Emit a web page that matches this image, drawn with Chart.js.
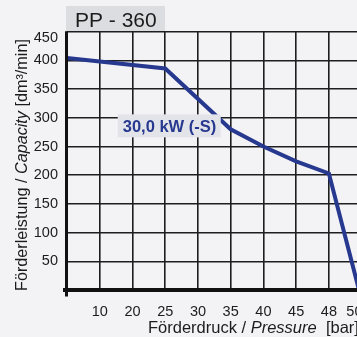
<!DOCTYPE html>
<html>
<head>
<meta charset="utf-8">
<script src="https://cdn.jsdelivr.net/npm/chart.js@4/dist/chart.umd.min.js"></script>
<style>
html,body{margin:0;padding:0;background:#f3f3f6;overflow:hidden;}
#wrap{width:357px;height:337px;overflow:hidden;position:relative;}
#c{display:block;}
</style>
</head>
<body>
<div id="wrap"><canvas id="c" width="400" height="337" style="width:400px;height:337px"></canvas></div>
<script>
// Category labels of the pressure axis (equally spaced positions 0..9)
const pressureLabels = ['', '10', '20', '25', '30', '35', '40', '45', '48', '50'];
// Curve points: position on the pressure axis (index into pressureLabels) and capacity
const curvePos = [0, 1, 3, 5, 6, 7, 8, 8.92];
const curveCapacity = [404, 398, 386, 280, 250, 224, 203, 0];
const yTicks = [0, 50, 100, 150, 200, 250, 300, 350, 400, 450];
const chartTitle = 'PP - 360';
const curveLabel = '30,0 kW (-S)';

const FONT = '"Liberation Sans", Arial, Helvetica, sans-serif';

const decor = {
  id: 'decor',
  beforeDraw(chart) {
    const ctx = chart.ctx;
    ctx.save();
    ctx.fillStyle = '#dcdde1';
    ctx.fillRect(66, 6, 99, 25);
    ctx.fillStyle = '#1c1c1c';
    ctx.font = '21px ' + FONT;
    ctx.textBaseline = 'alphabetic';
    ctx.fillText(chartTitle, 75, 27);
    ctx.restore();
  },
  afterDraw(chart) {
    const ctx = chart.ctx;
    const xs = chart.scales.x, ys = chart.scales.y;
    const ca = chart.chartArea;
    ctx.save();
    // top y tick label sits a little below its grid line
    ctx.fillStyle = '#1c1c1c';
    ctx.font = '14.5px ' + FONT;
    ctx.textAlign = 'right';
    ctx.textBaseline = 'middle';
    ctx.fillText(String(yTicks[yTicks.length - 1]), ca.left - 9, ys.getPixelForValue(yTicks[yTicks.length - 1]) + 6);
    ctx.textAlign = 'left';
    // axis lines
    ctx.strokeStyle = '#111';
    ctx.lineWidth = 3;
    ctx.beginPath();
    ctx.moveTo(66.5, ca.top - 0.5);
    ctx.lineTo(66.5, 296.5);
    ctx.stroke();
    ctx.lineWidth = 4;
    ctx.beginPath();
    ctx.moveTo(63, ys.getPixelForValue(0));
    ctx.lineTo(chart.width, ys.getPixelForValue(0));
    ctx.stroke();
    // curve label
    const lx = xs.getPixelForValue(1.55), ly = ys.getPixelForValue(306);
    ctx.fillStyle = '#e3e4ea';
    ctx.fillRect(lx, ly, 103, 23);
    ctx.fillStyle = '#27388f';
    ctx.font = 'bold 16.5px ' + FONT;
    ctx.textBaseline = 'alphabetic';
    ctx.fillText(curveLabel, lx + 5, ly + 17.5);
    // axis titles with italic part
    function mixed(parts, x, y, size) {
      let cx = x;
      parts.forEach(p => {
        ctx.font = (p[1] ? 'italic ' : '') + size + 'px ' + FONT;
        ctx.fillText(p[0], cx, y);
        cx += ctx.measureText(p[0]).width;
      });
    }
    ctx.fillStyle = '#1c1c1c';
    mixed([['Förderdruck / ', false], ['Pressure', true], ['  [bar]', false]], 148, 333, 16.5);
    ctx.translate(27, 291);
    ctx.rotate(-Math.PI / 2);
    mixed([['Förderleistung / ', false], ['Capacity', true], [' [dm³/min]', false]], 0, 0, 16.2);
    ctx.restore();
  }
};

// tick positions: the last label (50) sits a bit left of its (off-canvas) grid position
const xTickPos = [0, 1, 2, 3, 4, 5, 6, 7, 8, 8.78];

new Chart(document.getElementById('c'), {
  type: 'line',
  data: {
    datasets: [{
      data: curvePos.map((p, i) => ({ x: p, y: curveCapacity[i] })),
      borderColor: '#27388f',
      borderWidth: 4,
      pointRadius: 0,
      tension: 0,
      fill: false,
      clip: false
    }]
  },
  options: {
    responsive: false,
    animation: false,
    devicePixelRatio: 1,
    layout: { padding: { left: 0, top: 31.7, right: 22, bottom: 0 } },
    plugins: { legend: { display: false }, tooltip: { enabled: false }, title: { display: false } },
    scales: {
      x: {
        type: 'linear',
        min: 0,
        max: 9.5,
        afterBuildTicks: s => { s.ticks = xTickPos.map(v => ({ value: v })); },
        afterFit: s => { s.height = 47; },
        border: { display: false },
        grid: {
          color: c => (c.tick && c.tick.value > 8.5) ? 'rgba(0,0,0,0)' : '#1e1e1e',
          lineWidth: 1.6,
          drawTicks: false
        },
        ticks: {
          padding: 13,
          color: '#1c1c1c',
          font: { family: FONT, size: 14.5 },
          maxRotation: 0,
          autoSkip: false,
          callback: (v, i) => pressureLabels[i] || ''
        }
      },
      y: {
        type: 'linear',
        min: 0,
        max: 450,
        afterBuildTicks: s => { s.ticks = yTicks.map(v => ({ value: v })); },
        afterFit: s => { s.width = 67; },
        border: { display: false },
        grid: { color: '#1e1e1e', lineWidth: 1.6, drawTicks: false },
        ticks: {
          padding: 9,
          color: '#1c1c1c',
          font: { family: FONT, size: 14.5 },
          callback: v => (v === 0 || v === 450) ? '' : String(v)
        }
      }
    }
  },
  plugins: [decor]
});
</script>
</body>
</html>
